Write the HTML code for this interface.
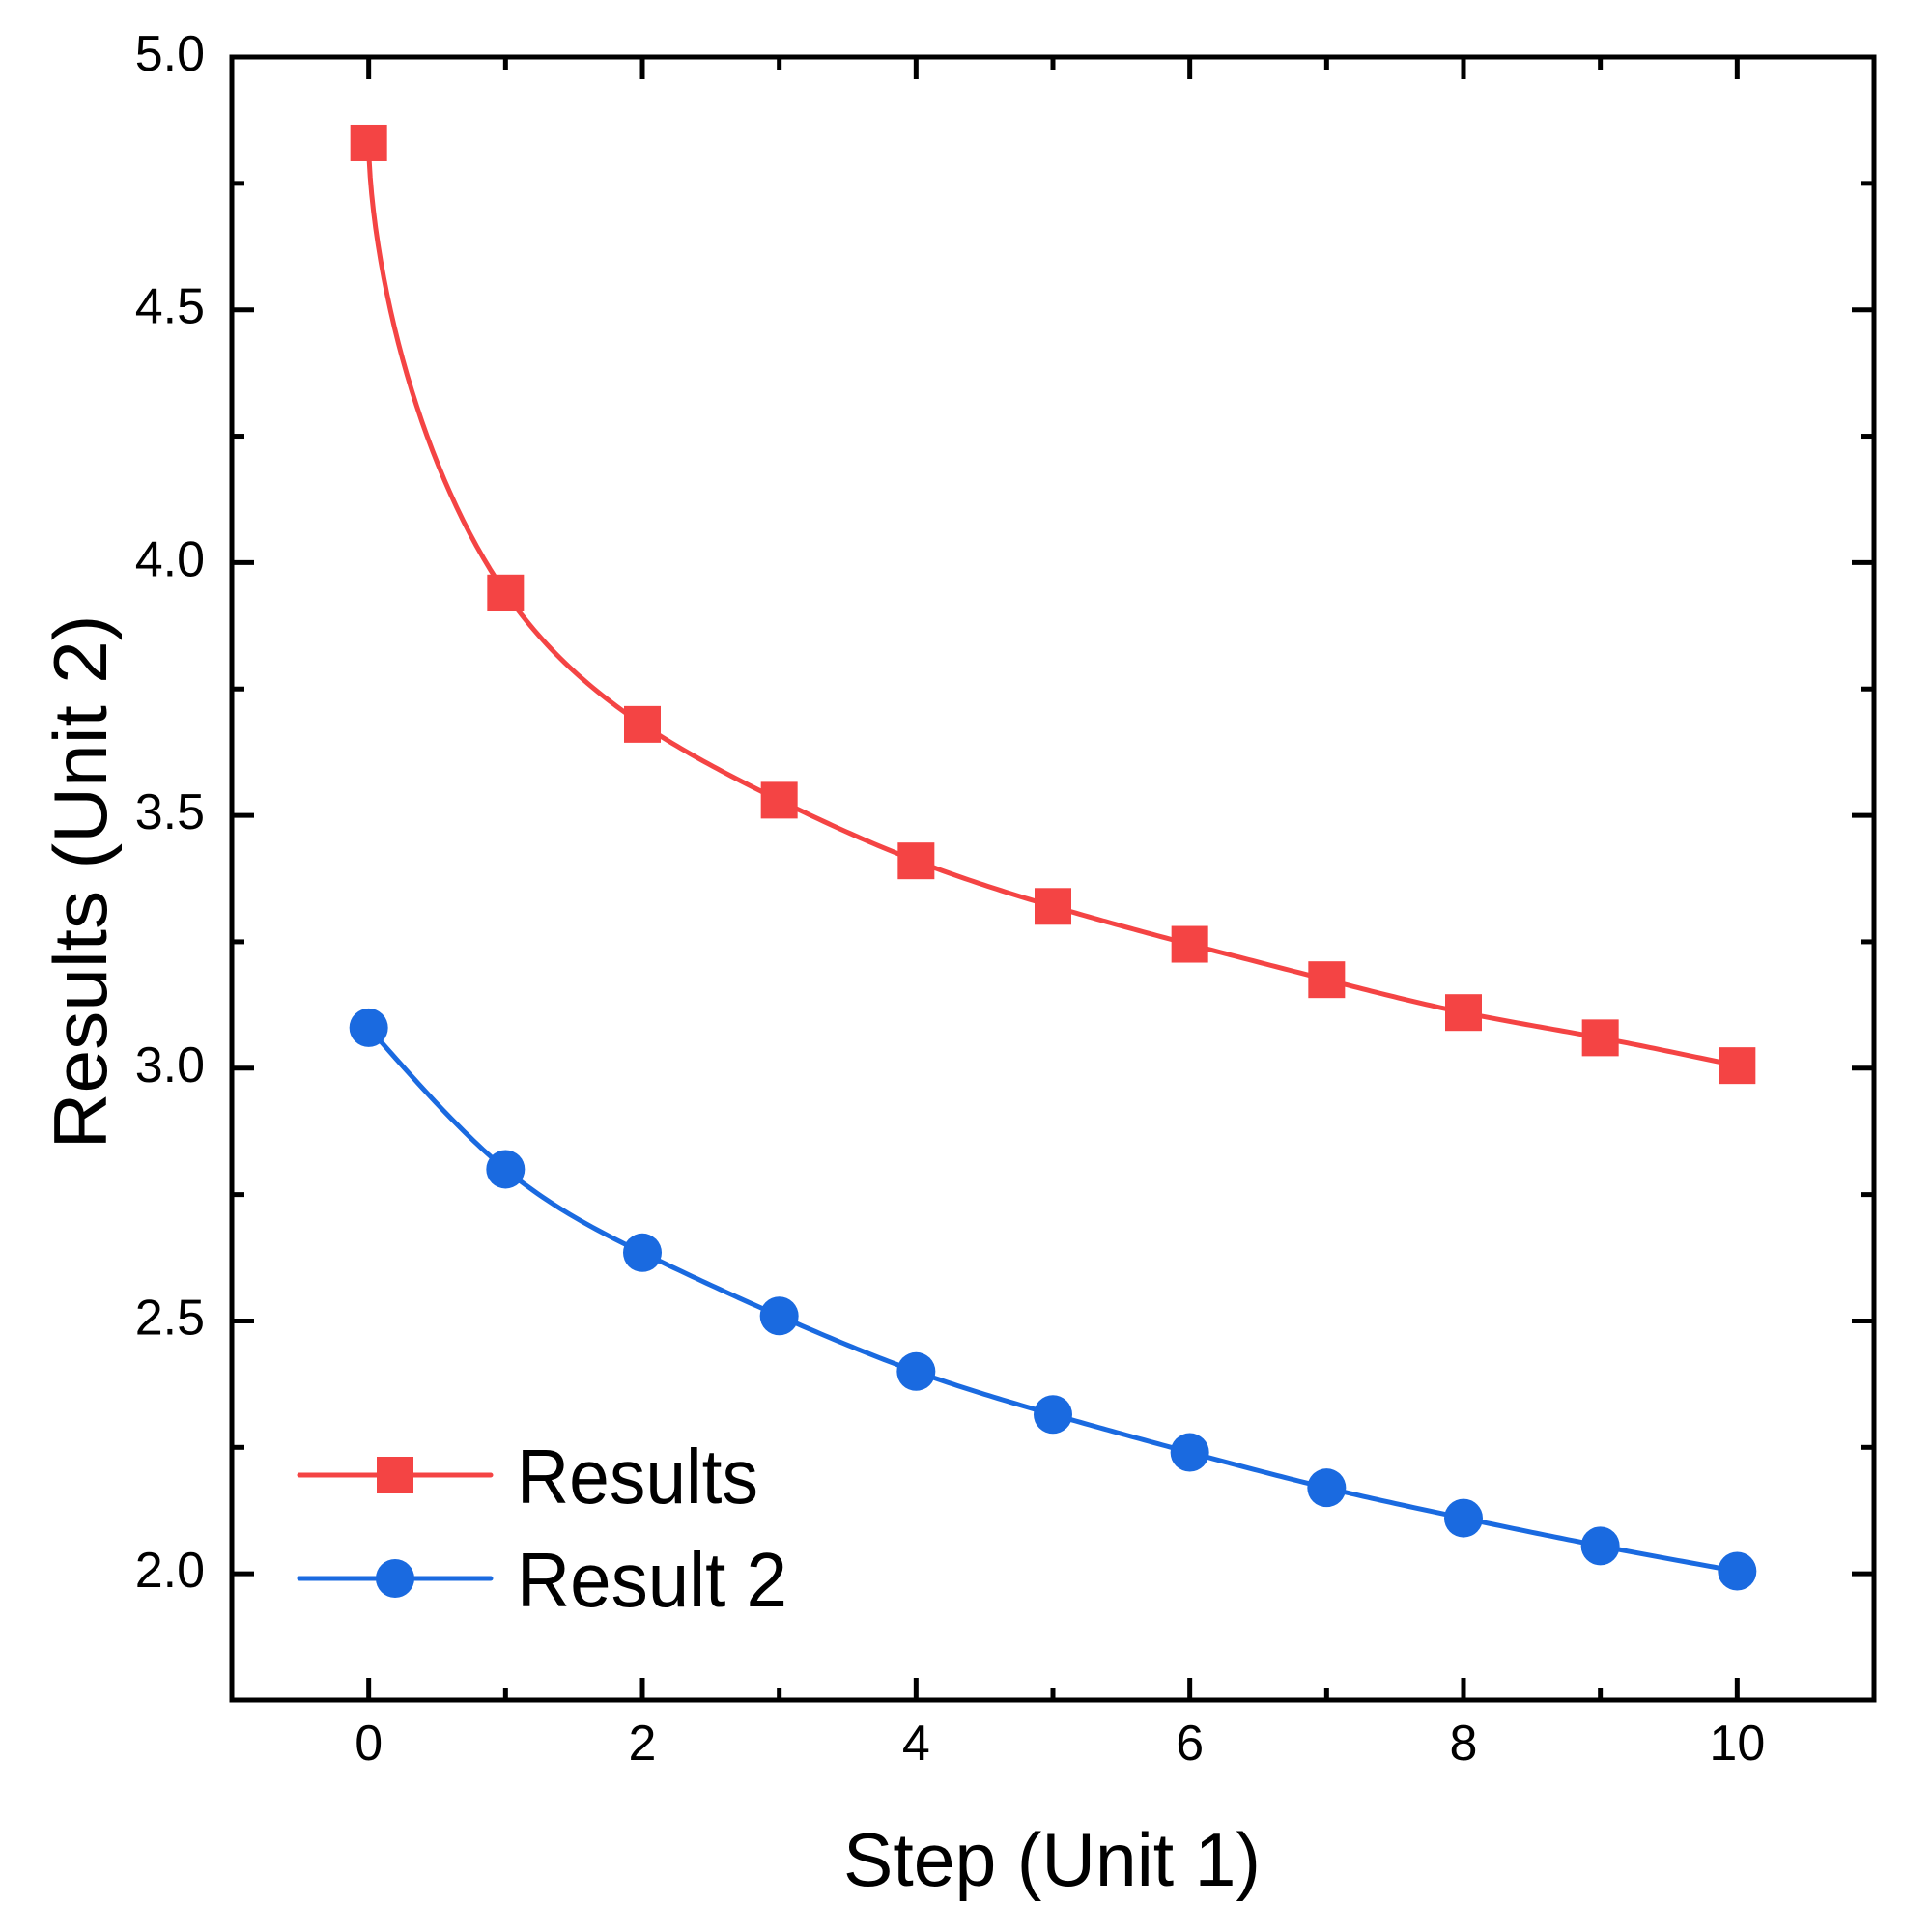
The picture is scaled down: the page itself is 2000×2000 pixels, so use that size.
<!DOCTYPE html>
<html><head><meta charset="utf-8"><style>
html,body{margin:0;padding:0;background:#fff;}
svg{display:block;font-family:"Liberation Sans",sans-serif;}
</style></head><body>
<svg id="chart" width="2000" height="2000" viewBox="0 0 2000 2000">
<g id="plot"></g>
<g>
<g>
<line x1="310" x2="508" y1="1527" y2="1527" stroke="#f44444" stroke-width="5" stroke-linecap="round"/>
<rect x="390" y="1508" width="38" height="38" fill="#f44444"/>
<text x="535" y="1556" font-size="80" textLength="250" lengthAdjust="spacingAndGlyphs">Results</text></g>
<g>
<line x1="310" x2="508" y1="1634" y2="1634" stroke="#1a6ae0" stroke-width="5" stroke-linecap="round"/>
<circle cx="409" cy="1634" r="20" fill="#1a6ae0"/>
<text x="535" y="1663" font-size="80" textLength="280" lengthAdjust="spacingAndGlyphs">Result 2</text></g>
</g>
<text x="873" y="1952" font-size="78" textLength="432" lengthAdjust="spacingAndGlyphs">Step (Unit 1)</text>
<text x="0" y="0" font-size="78" text-anchor="middle" textLength="553" lengthAdjust="spacingAndGlyphs" transform="translate(110,913) rotate(-90)">Results (Unit 2)</text>
</svg>
<script>
const steps=[0,1,2,3,4,5,6,7,8,9,10];
const results=[4.83,3.94,3.68,3.53,3.41,3.32,3.245,3.175,3.11,3.06,3.005];
const result2=[3.08,2.80,2.635,2.51,2.40,2.315,2.24,2.17,2.11,2.055,2.005];
const xTicks=[0,2,4,6,8,10];
const yTicks=[2.0,2.5,3.0,3.5,4.0,4.5,5.0];
const L=240,R=1940,T=59,B=1760;
const xmin=-1,xmax=11,ymin=1.75,ymax=5.0;
const sx=v=>L+(v-xmin)/(xmax-xmin)*(R-L);
const sy=v=>B-(v-ymin)/(ymax-ymin)*(B-T);
const NS='http://www.w3.org/2000/svg';
const g=document.getElementById('plot');
function el(t,a,p){const e=document.createElementNS(NS,t);for(const k in a)e.setAttribute(k,a[k]);(p||g).appendChild(e);return e;}
function spline(xsRaw,ys,pw){
  const x0=xsRaw[0];
  const xs=xsRaw.map(v=>Math.pow(v-x0,pw));
  const n=xs.length;const h=[],al=[0],l=[1],mu=[0],z=[0],c=new Array(n).fill(0),b=[],d=[];
  for(let i=0;i<n-1;i++)h.push(xs[i+1]-xs[i]);
  for(let i=1;i<n-1;i++)al.push(3/h[i]*(ys[i+1]-ys[i])-3/h[i-1]*(ys[i]-ys[i-1]));
  for(let i=1;i<n-1;i++){l[i]=2*(xs[i+1]-xs[i-1])-h[i-1]*mu[i-1];mu[i]=h[i]/l[i];z[i]=(al[i]-h[i-1]*z[i-1])/l[i];}
  for(let j=n-2;j>=0;j--){c[j]=z[j]-mu[j]*c[j+1];b[j]=(ys[j+1]-ys[j])/h[j]-h[j]*(c[j+1]+2*c[j])/3;d[j]=(c[j+1]-c[j])/(3*h[j]);}
  let s='';
  for(let j=0;j<n-1;j++){for(let k=0;k<=30;k++){const t=h[j]*k/30;const y=ys[j]+b[j]*t+c[j]*t*t+d[j]*t*t*t;const u=xs[j]+t;
    s+=(s?' L':'M')+sx(Math.pow(u,1/pw)+x0).toFixed(2)+','+sy(y).toFixed(2);}}
  return s;
}
for(let v=-1;v<=11;v++){const x=sx(v);const major=v%2===0&&v>=0&&v<=10;const len=major?23:13;
let t=el('line',{x1:x,x2:x,y1:B,y2:B-len,stroke:'#000','stroke-width':5});

t=el('line',{x1:x,x2:x,y1:T,y2:T+len,stroke:'#000','stroke-width':5});
}
for(let i=0;i<=13;i++){const v=1.75+i*0.25;const y=sy(v);const major=Math.abs(v*2-Math.round(v*2))<1e-6;const len=major?23:13;
let t=el('line',{x1:L,x2:L+len,y1:y,y2:y,stroke:'#000','stroke-width':5});

t=el('line',{x1:R,x2:R-len,y1:y,y2:y,stroke:'#000','stroke-width':5});
}
xTicks.forEach(v=>{const t=el('text',{x:sx(v),y:1822,'font-size':52,'text-anchor':'middle'});t.textContent=v;
});
yTicks.forEach(v=>{const t=el('text',{x:212,y:sy(v)+14,'font-size':52,'text-anchor':'end'});t.textContent=v.toFixed(1);
});
function series(ys,color,shape,name,pw){
const p=el('path',{d:spline(steps,ys,pw),fill:'none',stroke:color,'stroke-width':5});

steps.forEach((x,i)=>{let m;if(shape==='sq')m=el('rect',{x:sx(x)-19,y:sy(ys[i])-19,width:38,height:38,fill:color});
else m=el('circle',{cx:sx(x),cy:sy(ys[i]),r:20,fill:color});
});}
series(results,'#f44444','sq','results',0.6);
series(result2,'#1a6ae0','ci','result-2',1);
const f=el('rect',{x:L,y:T,width:R-L,height:B-T,fill:'none',stroke:'#000','stroke-width':5});

</script>
</body></html>
